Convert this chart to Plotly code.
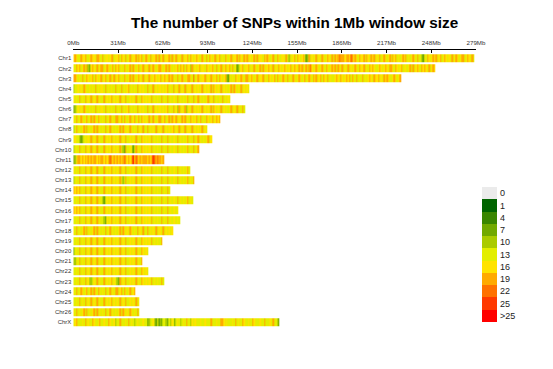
import numpy as np
import plotly.graph_objects as go

# ---------------- data ----------------
chrom_names = ["Chr1", "Chr2", "Chr3", "Chr4", "Chr5", "Chr6", "Chr7", "Chr8", "Chr9",
               "Chr10", "Chr11", "Chr12", "Chr13", "Chr14", "Chr15", "Chr16", "Chr17",
               "Chr18", "Chr19", "Chr20", "Chr21", "Chr22", "Chr23", "Chr24", "Chr25",
               "Chr26", "ChrX"]

# number of 1Mb windows per chromosome
chrom_windows = [278, 251, 227, 122, 109, 119, 102, 93, 96, 87, 63, 81, 84, 67, 83, 73,
                 74, 69, 62, 52, 48, 52, 63, 43, 46, 46, 143]

# density class per 1Mb window (digit = legend bin index, 1..9)
density_codes = {
    "Chr1": "6765576675 5676657765 7566567756 6757657567 5667576756 7657566757 5675667575 6756575667 5765676557 6575765675 6756576567 5667576576 7565675756 6576765675 5765665754 6567576567 5347565675 6576567657 5767877767 7687676576 6757657675 6575676567 5767565676 7565676575 5436576567 6756756765 6575676567 75676575",
    "Chr2": "6576756757 4367657567 7567656757 6756576567 5765675675 6575676567 7656757656 5675767576 6475656756 6576567657 5675675675 7563456756 6756576567 5765676575 6576567656 7567657675 6757865676 5676576567 6757657565 7565676576 6756576765 5676567657 7657656756 6567575676 5767657567 6",
    "Chr3": "7765657567 6567576567 5675675675 6756576567 5765676575 6576567656 7567657675 6575676567 7658567656 6756576567 5765674365 6576567657 7567656756 6756576567 5765676575 6576567656 7567657675 6757657565 5676576567 6757657565 7565676576 6756576765 5676567",
    "Chr4": "4556565765 5656575656 6575656557 5657565675 6565756565 5756575656 6565675657 5657565756 6575656567 5656575765 6575656567 5765657565 65",
    "Chr5": "6565756575 6575657565 5756567565 6575657556 5657565765 6565756565 5756575656 6575656567 5657567565 6567565756 565756565",
    "Chr6": "3456565765 5656575656 6575656557 5657565675 6565756565 5756575656 6565675657 5647565745 6575656567 5656575765 6575656567 565756575",
    "Chr7": "6575676567 5675765765 6575675657 7567576567 5675675765 6576576567 7567567576 6756576756 5765675675 6576567567 67",
    "Chr8": "4575656757 5656757565 6575675656 5675765657 6565756575 5756565756 6575656567 5657565756 6575656567 565",
    "Chr9": "5655434565 6575657565 5756567565 6575657556 5657565765 6565756565 5756575656 6575656567 5657567565 656756",
    "Chr10": "4565756575 6575657565 5756567565 6575437556 5357565765 6565756565 5756575656 6575656567 5657567",
    "Chr11": "3467767676 7676776767 7676787676 7676787676 7968767677 7676798787 767",
    "Chr12": "6565756575 6575657565 5756567565 6575657556 5657565765 6565756565 5756575656 6575656567 5",
    "Chr13": "4565756575 6575657565 5756567565 6575457556 5657565765 6565756565 5756575656 6575656567 5657",
    "Chr14": "7676756575 6576657565 5756567565 6575657556 5657565765 6565756565 5756575",
    "Chr15": "5565756575 6575657565 4356567565 6575657556 5657565765 6565756565 5756575656 6575656567 565",
    "Chr16": "7676756575 6576657565 5756567565 6575657556 5657565765 6565756565 5756575656 656",
    "Chr17": "5565756575 6575657565 5436567565 6575657556 5657565765 6565756565 5756575656 6565",
    "Chr18": "6575656757 5656757565 6575675656 5675765657 6565756575 5756565756 657565656",
    "Chr19": "5565756575 6575657565 5756567565 6575657556 5657565765 6565756565 57",
    "Chr20": "3565756575 6575657565 5756567565 6575657556 5657565765 65",
    "Chr21": "4465756575 6575657565 5756567565 6575657556 56575657",
    "Chr22": "5565756575 6575657565 5756567565 6575657556 5657565765 65",
    "Chr23": "5565756575 6445657565 5756567565 4375657556 5657565765 6565756565 575",
    "Chr24": "6575676567 5675765765 6575675657 7567576567 567",
    "Chr25": "5565756575 6575657565 5756567565 6575657556 565756",
    "Chr26": "6575656757 5656757565 6575675656 5675765657 656575",
    "ChrX": "5675556575 6557655675 5655765564 5575556575 6545655565 5345564353 4355435465 3565456575 5465655565 5655575556 5577656555 6575655765 5655765556 5575556575 543",
}

# representative SNP count for each legend bin
bin_counts = [0, 2, 5, 8, 11, 14, 17, 20, 23, 25, 28]
bin_lower = [1, 4, 7, 10, 13, 16, 19, 22, 25, 26]
legend_labels = ["0", "1", "4", "7", "10", "13", "16", "19", "22", "25", ">25"]
legend_colors = ["#EBEBEB", "#006400", "#398600", "#71A900", "#AACB00", "#E3EE00",
                 "#FFE300", "#FFAA00", "#FF7100", "#FF3900", "#FF0000"]

axis_ticks = [0, 31, 62, 93, 124, 155, 186, 217, 248, 279]
axis_labels = [f"{v}Mb" for v in axis_ticks]
x_max = 279
title_text = "The number of SNPs within 1Mb window size"

# ---------------- build ----------------
snp_counts = {}
for name in chrom_names:
    s = density_codes[name].replace(" ", "")
    snp_counts[name] = [bin_counts[int(c)] for c in s]

def count_to_bin(c):
    if c == 0:
        return 0
    return int(np.searchsorted(bin_lower, c, side="right"))

z = np.full((len(chrom_names), x_max), np.nan)
for i, name in enumerate(chrom_names):
    vals = snp_counts[name]
    for j, c in enumerate(vals):
        z[i, j] = count_to_bin(c)

n = len(legend_colors)
cscale = []
for k, col in enumerate(legend_colors):
    cscale.append([k / n, col])
    cscale.append([(k + 1) / n, col])

W, H = 553, 369
OFF = 8  # page body margin offset
ml, mr, mt, mb = 20, 20, 10, 10
pw, ph = W - ml - mr, H - mt - mb

def px_x(p):
    return (p - OFF - ml) / pw

def px_y(p):
    return (H - mb - (p - OFF)) / ph

row_top = 58.3
row_step = (322.0 - 58.3) / 26

fig = go.Figure()
fig.add_trace(go.Heatmap(
    z=z, x=np.arange(x_max) + 0.5, y=list(range(len(chrom_names))),
    colorscale=cscale, zmin=-0.5, zmax=n - 0.5, showscale=False,
    ygap=2, xgap=0, hoverinfo="skip", xaxis="x", yaxis="y"))

fig.add_trace(go.Heatmap(
    z=[[k] for k in range(n)], x=[0], y=list(range(n)),
    colorscale=cscale, zmin=-0.5, zmax=n - 0.5, showscale=False,
    hoverinfo="skip", xaxis="x2", yaxis="y2"))

fig.update_layout(
    width=W, height=H,
    margin=dict(l=ml, r=mr, t=mt, b=mb),
    paper_bgcolor="white", plot_bgcolor="white",
    showlegend=False,
    font=dict(family="Liberation Sans, Arial, sans-serif"),
    xaxis=dict(
        domain=[px_x(73.3), px_x(476.0)], range=[0, x_max],
        side="top", anchor="free", position=px_y(48.5),
        tickvals=axis_ticks, ticktext=axis_labels,
        ticks="inside", ticklen=3, tickcolor="black", tickwidth=1,
        showline=True, linecolor="black", linewidth=1,
        showgrid=False, zeroline=False,
        tickfont=dict(size=6.2, color="#333333"), ticklabelstandoff=1,
    ),
    yaxis=dict(
        domain=[px_y(row_top + 26 * row_step + row_step / 2), px_y(row_top - row_step / 2)],
        range=[len(chrom_names) - 0.5, -0.5], anchor="x",
        tickvals=list(range(len(chrom_names))), ticktext=chrom_names,
        ticks="", showgrid=False, zeroline=False, showline=False,
        tickfont=dict(size=6, color="#333333"), ticklabelstandoff=1,
    ),
    xaxis2=dict(
        domain=[px_x(482), px_x(497)], range=[-0.5, 0.5], anchor="y2",
        visible=False,
    ),
    yaxis2=dict(
        domain=[px_y(322), px_y(187)], range=[n - 0.5, -0.5], anchor="x2",
        side="right", tickvals=list(range(n)), ticktext=legend_labels,
        ticks="", showgrid=False, zeroline=False, showline=False,
        tickfont=dict(size=9, color="#222222"), ticklabelstandoff=2,
    ),
    annotations=[dict(
        text=f"<b>{title_text}</b>", xref="paper", yref="paper",
        x=px_x(294), y=px_y(23), xanchor="center", yanchor="middle",
        showarrow=False, font=dict(size=15.3, color="black"),
    )],
)

fig.write_html("out.html")
